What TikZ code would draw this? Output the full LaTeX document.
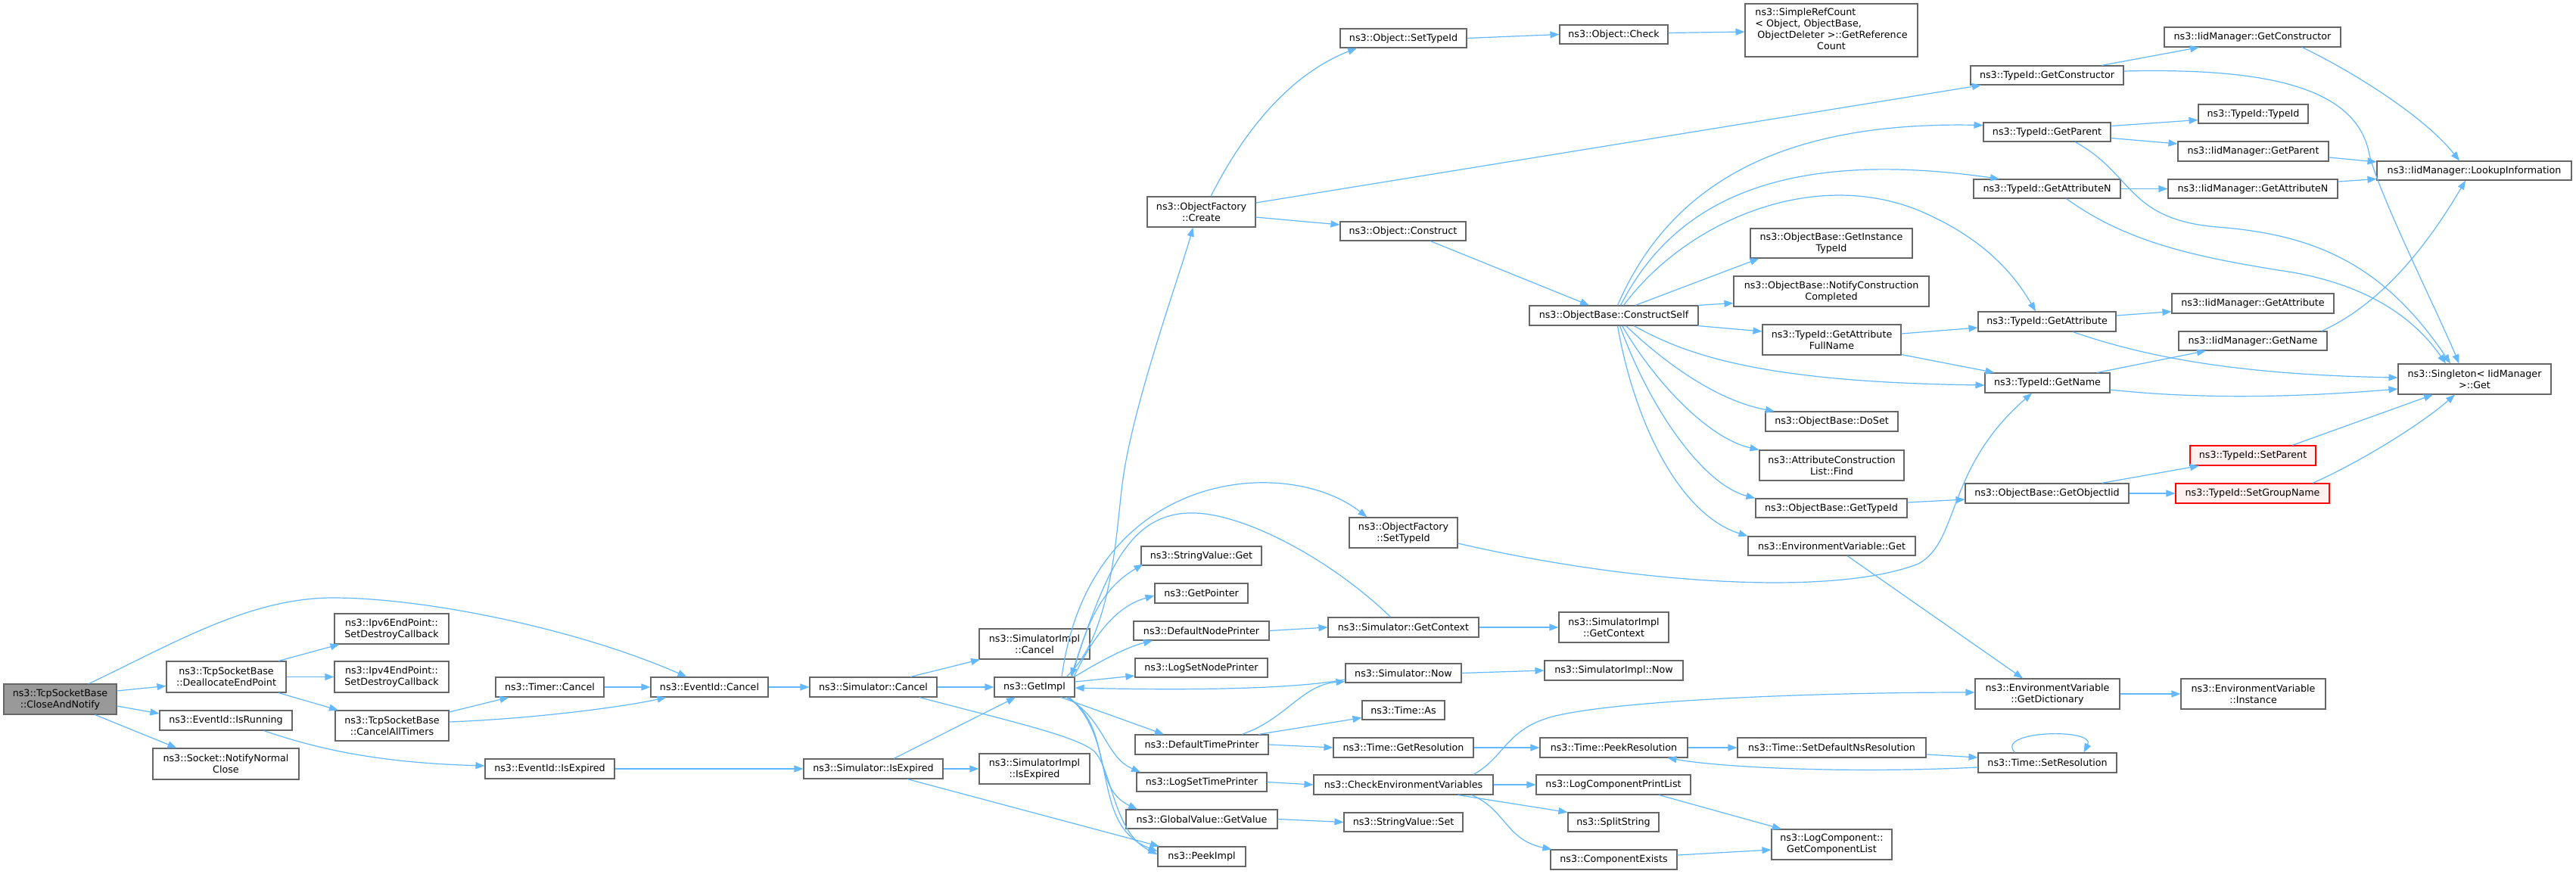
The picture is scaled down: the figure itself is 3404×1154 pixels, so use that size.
\documentclass[tikz,border=0pt]{standalone}
\usepackage{fontspec}
\setmainfont{DejaVu Sans}
\usetikzlibrary{arrows.meta}
\definecolor{edgecol}{HTML}{63B8FF}
\definecolor{bordcol}{HTML}{666666}
\definecolor{rootfill}{HTML}{999999}
\definecolor{redfill}{HTML}{FFF0F0}
\definecolor{redline}{HTML}{FF0000}
\newcommand{\nd}[7]{\node[#1, minimum width=#5pt, minimum height=#6pt] (#2) at (#3,#4) {#7};}
\begin{document}
\begin{tikzpicture}[x=1pt,y=-1pt,
  box/.style={draw=bordcol, line width=1.1pt, fill=white, inner sep=0pt, align=center, font=\fontsize{12.7}{15}\selectfont},
  rootbox/.style={box, fill=rootfill},
  redbox/.style={box, draw=redline, fill=redfill},
  conn/.style={draw=edgecol, line width=1.2pt, -{Triangle[length=12pt,width=9pt]}}]
\useasboundingbox (0,0) rectangle (3404,1154);
\fill[white] (0,0) rectangle (3404,1154);
% nodes
\nd{rootbox}{cn}{79.5}{924}{149}{40}{ns3::TcpSocketBase\\::CloseAndNotify}
\nd{box}{dep}{299}{894.5}{158}{41}{ns3::TcpSocketBase\\::DeallocateEndPoint}
\nd{box}{isr}{298.5}{952}{175}{26}{ns3::EventId::IsRunning}
\nd{box}{nnc}{298.5}{1009.5}{193}{41}{ns3::Socket::NotifyNormal\\Close}
\nd{box}{ip6}{517.5}{831}{151}{40}{ns3::Ipv6EndPoint::\\SetDestroyCallback}
\nd{box}{ip4}{517.5}{894.5}{151}{41}{ns3::Ipv4EndPoint::\\SetDestroyCallback}
\nd{box}{cat}{518}{959}{150}{40}{ns3::TcpSocketBase\\::CancelAllTimers}
\nd{box}{tc}{726.5}{908}{143}{26}{ns3::Timer::Cancel}
\nd{box}{ec}{937.5}{908}{155}{26}{ns3::EventId::Cancel}
\nd{box}{iex}{726.5}{1016}{171}{26}{ns3::EventId::IsExpired}
\nd{box}{sc}{1154}{908}{168}{26}{ns3::Simulator::Cancel}
\nd{box}{sie}{1154}{1016}{184}{26}{ns3::Simulator::IsExpired}
\nd{box}{sic}{1367}{851}{146}{40}{ns3::SimulatorImpl\\::Cancel}
\nd{box}{gi}{1367}{908}{106}{26}{ns3::GetImpl}
\nd{box}{siie}{1367}{1016}{146}{40}{ns3::SimulatorImpl\\::IsExpired}
\nd{box}{dnp}{1587.5}{833.5}{179}{25}{ns3::DefaultNodePrinter}
\nd{box}{lsnp}{1587.5}{882.5}{175}{25}{ns3::LogSetNodePrinter}
\nd{box}{dtp}{1588}{984}{176}{26}{ns3::DefaultTimePrinter}
\nd{box}{lstp}{1588}{1033.5}{172}{25}{ns3::LogSetTimePrinter}
\nd{box}{gv}{1588}{1082.5}{200}{25}{ns3::GlobalValue::GetValue}
\nd{box}{pi}{1588}{1132}{116}{26}{ns3::PeekImpl}
\nd{box}{svg}{1587.5}{734.5}{159}{25}{ns3::StringValue::Get}
\nd{box}{gp}{1587.5}{784}{123}{26}{ns3::GetPointer}
\nd{box}{ofst}{1854.5}{704}{143}{40}{ns3::ObjectFactory\\::SetTypeId}
\nd{box}{sgc}{1854.5}{829}{199}{26}{ns3::Simulator::GetContext}
\nd{box}{sigc}{2132.5}{829}{145}{40}{ns3::SimulatorImpl\\::GetContext}
\nd{box}{sn}{1854.5}{889.5}{153}{25}{ns3::Simulator::Now}
\nd{box}{sin}{2132.5}{886}{183}{26}{ns3::SimulatorImpl::Now}
\nd{box}{tas}{1854.5}{938.5}{109}{25}{ns3::Time::As}
\nd{box}{tgr}{1854.5}{988}{185}{26}{ns3::Time::GetResolution}
\nd{box}{tpr}{2132.5}{988}{195}{26}{ns3::Time::PeekResolution}
\nd{box}{cev}{1854.5}{1037}{237}{26}{ns3::CheckEnvironmentVariables}
\nd{box}{lcpl}{2132}{1037}{204}{26}{ns3::LogComponentPrintList}
\nd{box}{svs}{1854.5}{1086.5}{157}{25}{ns3::StringValue::Set}
\nd{box}{ss}{2132}{1086.5}{120}{25}{ns3::SplitString}
\nd{box}{ce}{2132.5}{1136}{167}{26}{ns3::ComponentExists}
\nd{box}{ocr}{1587.5}{280}{143}{40}{ns3::ObjectFactory\\::Create}
\nd{box}{ost}{1854.5}{50.5}{167}{25}{ns3::Object::SetTypeId}
\nd{box}{ocn}{1854}{305.5}{166}{25}{ns3::Object::Construct}
\nd{box}{och}{2132.5}{45.5}{143}{25}{ns3::Object::Check}
\nd{box}{src}{2420}{40}{228}{70}{\begin{tabular}{@{}l@{}}ns3::SimpleRefCount\\< Object, ObjectBase,\\\hspace{3pt}ObjectDeleter >::GetReference\\\multicolumn{1}{@{}c@{}}{Count}\end{tabular}}
\nd{box}{cs}{2132.5}{417}{223}{26}{ns3::ObjectBase::ConstructSelf}
\nd{box}{git}{2420}{321.5}{214}{39}{ns3::ObjectBase::GetInstance\\TypeId}
\nd{box}{ncc}{2420}{385}{258}{40}{ns3::ObjectBase::NotifyConstruction\\Completed}
\nd{box}{gafn}{2420.5}{449}{183}{40}{ns3::TypeId::GetAttribute\\FullName}
\nd{box}{dos}{2420.5}{557}{175}{26}{ns3::ObjectBase::DoSet}
\nd{box}{acl}{2420.5}{615}{191}{40}{ns3::AttributeConstruction\\List::Find}
\nd{box}{obgt}{2420}{671.5}{200}{25}{ns3::ObjectBase::GetTypeId}
\nd{box}{evg}{2420.5}{721.5}{221}{25}{ns3::EnvironmentVariable::Get}
\nd{box}{tgc}{2705}{99.5}{202}{25}{ns3::TypeId::GetConstructor}
\nd{box}{tgp}{2705}{174.5}{168}{25}{ns3::TypeId::GetParent}
\nd{box}{tgan}{2705}{249.5}{194}{25}{ns3::TypeId::GetAttributeN}
\nd{box}{tga}{2705}{425}{182}{26}{ns3::TypeId::GetAttribute}
\nd{box}{tgn}{2705.5}{506}{165}{26}{ns3::TypeId::GetName}
\nd{box}{gdict}{2705.5}{917}{191}{40}{ns3::EnvironmentVariable\\::GetDictionary}
\nd{box}{sdns}{2420.5}{988}{249}{26}{ns3::Time::SetDefaultNsResolution}
\nd{box}{gcl}{2420.5}{1116}{159}{40}{ns3::LogComponent::\\GetComponentList}
\nd{box}{goi}{2705}{652}{216}{26}{ns3::ObjectBase::GetObjectIid}
\nd{box}{sres}{2705.5}{1008}{183}{26}{ns3::Time::SetResolution}
\nd{box}{igc}{2976.5}{49}{233}{26}{ns3::IidManager::GetConstructor}
\nd{box}{tti}{2977.5}{150.5}{145}{25}{ns3::TypeId::TypeId}
\nd{box}{igp}{2977.5}{200}{199}{26}{ns3::IidManager::GetParent}
\nd{box}{igan}{2977}{249.5}{224}{25}{ns3::IidManager::GetAttributeN}
\nd{box}{iga}{2977}{401}{214}{26}{ns3::IidManager::GetAttribute}
\nd{box}{ign}{2977}{450.5}{196}{25}{ns3::IidManager::GetName}
\nd{redbox}{tsp}{2977}{602}{166}{26}{ns3::TypeId::SetParent}
\nd{redbox}{tsg}{2976.5}{652}{203}{26}{ns3::TypeId::SetGroupName}
\nd{box}{evi}{2977.5}{917}{191}{40}{ns3::EnvironmentVariable\\::Instance}
\nd{box}{lki}{3269.5}{225.5}{257}{25}{ns3::IidManager::LookupInformation}
\nd{box}{sgl}{3270}{501}{202}{40}{ns3::Singleton< IidManager\\>::Get}
% edges
\draw[conn] ([xshift=38pt]cn.north) .. controls (230,850) and (330,790) .. (440,790) .. controls (560,790) and (760,830) .. ([xshift=-30pt]ec.north);
\draw[conn] ([yshift=11pt]cn.east) -- ([yshift=-12pt]dep.west);
\draw[conn] ([yshift=-9pt]cn.east) -- ([yshift=9pt]isr.west);
\draw[conn] ([xshift=46pt]cn.south) -- ([xshift=-65pt]nnc.north);
\draw[conn] ([xshift=69pt]dep.north) -- ([xshift=-69pt]ip6.south);
\draw[conn] (dep.east) -- (ip4.west);
\draw[conn] ([xshift=69pt]dep.south) -- ([xshift=-71pt]cat.north);
\draw[conn] ([yshift=18pt]cat.east) -- ([xshift=-54pt]tc.south);
\draw[conn] ([yshift=5pt]cat.east) .. controls (700,950) and (820,935) .. ([xshift=-57pt]ec.south);
\draw[conn] ([xshift=50pt]isr.south) .. controls (420,990) and (500,1008) .. ([yshift=4pt]iex.west);
\draw[conn] (tc.east) -- (ec.west);
\draw[conn] (ec.east) -- (sc.west);
\draw[conn] (iex.east) -- (sie.west);
\draw[conn] ([xshift=49pt]sc.north) -- ([xshift=-72pt]sic.south);
\draw[conn] (sc.east) -- (gi.west);
\draw[conn] ([xshift=61pt]sc.south) .. controls (1330,952) and (1420,972) .. (1445,992) .. controls (1470,1015) and (1470,1100) .. ([yshift=3pt]pi.west);
\draw[conn] ([xshift=27pt]sie.north) -- ([xshift=-25pt]gi.south);
\draw[conn] (sie.east) -- (siie.west);
\draw[conn] ([xshift=45pt]sie.south) -- ([xshift=-56pt]pi.north);
\draw[conn] ([xshift=42pt]gi.north) .. controls (1470,840) and (1475,700) .. (1483,640) .. controls (1495,540) and (1560,360) .. ([xshift=-11pt]ocr.south);
\draw[conn] ([xshift=36pt]gi.north) .. controls (1440,620) and (1700,600) .. ([xshift=-48pt]ofst.north);
\draw[conn] ([xshift=-17pt]sgc.north) .. controls (1760,740) and (1640,675) .. (1570,678) .. controls (1490,681) and (1460,760) .. ([xshift=48pt]gi.north);
\draw[conn] ([xshift=50pt]gi.north) .. controls (1440,800) and (1470,770) .. ([xshift=3pt,yshift=2pt]svg.south west);
\draw[conn] ([xshift=52pt]gi.north) .. controls (1450,830) and (1480,800) .. ([yshift=-3pt]gp.west);
\draw[conn] ([xshift=-1pt]gi.north east) .. controls (1460,870) and (1490,855) .. ([xshift=-64.5pt]dnp.south);
\draw[conn] ([yshift=7pt]gi.east) -- ([yshift=-10.5pt]lsnp.west);
\draw[conn] ([xshift=35pt]gi.south) -- ([xshift=-50pt]dtp.north);
\draw[conn] ([xshift=42pt]gi.south) .. controls (1460,950) and (1460,1000) .. ([xshift=-81pt]lstp.north);
\draw[conn] ([xshift=44pt]gi.south) .. controls (1470,960) and (1440,1040) .. ([xshift=-85pt]gv.north);
\draw[conn] ([xshift=46pt]gi.south) .. controls (1480,980) and (1440,1090) .. ([yshift=7pt]pi.west);
\draw[conn] ([yshift=-8.5pt]sn.west) .. controls (1700,912) and (1550,912) .. ([yshift=-1pt]gi.east);
\draw[conn] (dnp.east) -- (sgc.west);
\draw[conn] ([xshift=53pt]dtp.north) .. controls (1700,950) and (1720,905) .. ([yshift=2pt]sn.south west);
\draw[conn] ([xshift=75pt]dtp.north) -- ([yshift=-10pt]tas.west);
\draw[conn] (dtp.east) -- (tgr.west);
\draw[conn] (lstp.east) -- (cev.west);
\draw[conn] (gv.east) -- (svs.west);
\draw[conn] (sgc.east) -- (sigc.west);
\draw[conn] (sn.east) -- (sin.west);
\draw[conn] (tgr.east) -- (tpr.west);
\draw[conn] (tpr.east) -- (sdns.west);
\draw[conn] ([yshift=-9pt]sdns.east) -- ([yshift=7pt]sres.west);
\draw[conn] ([yshift=-6pt]sres.west) .. controls (2450,1022) and (2280,1015) .. ([xshift=71pt]tpr.south);
\draw[conn] ([xshift=-43pt]sres.north) .. controls (2635,965) and (2770,962) .. ([xshift=48pt]sres.north);
\draw[conn] ([xshift=92.5pt]cev.north) .. controls (1990,1000) and (1990,960) .. (2060,945) .. controls (2150,925) and (2400,915) .. ([yshift=2pt]gdict.west);
\draw[conn] (cev.east) -- (lcpl.west);
\draw[conn] ([xshift=72pt]cev.south) -- (ss.north west);
\draw[conn] ([xshift=90pt]cev.south) .. controls (1990,1070) and (1990,1110) .. ([xshift=2pt]ce.north west);
\draw[conn] ([xshift=60pt]lcpl.south) -- ([xshift=-66.5pt]gcl.north);
\draw[conn] ([yshift=6pt]ce.east) -- ([yshift=-7pt]gcl.west);
\draw[conn] (gdict.east) -- (evi.west);
\draw[conn] ([xshift=20.5pt]evg.south) -- ([xshift=-32.5pt]gdict.north);
\draw[conn] ([yshift=-14pt]ofst.east) .. controls (2150,770) and (2420,790) .. (2535,745) .. controls (2590,715) and (2570,620) .. ([xshift=-20.5pt]tgn.south);
\draw[conn] ([xshift=12.5pt]ocr.north) .. controls (1640,180) and (1700,100) .. ([xshift=-61.5pt]ost.south);
\draw[conn] ([yshift=12pt]ocr.east) -- ([xshift=-87pt]tgc.south);
\draw[conn] ([yshift=-7pt]ocr.east) -- ([yshift=8.5pt]ocn.west);
\draw[conn] (ost.east) -- (och.west);
\draw[conn] ([yshift=2pt]och.east) -- ([yshift=-2pt]src.west);
\draw[conn] ([xshift=36pt]ocn.south) -- ([xshift=-32.5pt]cs.north);
\draw[conn] ([xshift=5pt]cs.north) .. controls (2200,260) and (2330,160) .. ([yshift=9pt]tgp.west);
\draw[conn] ([xshift=9pt]cs.north) .. controls (2200,290) and (2320,190) .. ([xshift=-63pt]tgan.north);
\draw[conn] ([xshift=13pt]cs.north) .. controls (2230,290) and (2400,220) .. (2540,280) .. controls (2620,315) and (2660,360) .. ([xshift=-15pt]tga.north);
\draw[conn] ([xshift=28.5pt]cs.north) -- ([xshift=-95.5pt]git.south);
\draw[conn] ([xshift=-1pt]cs.north east) -- ([yshift=5pt]ncc.south west);
\draw[conn] ([xshift=-1pt]cs.south east) -- ([yshift=11pt]gafn.west);
\draw[conn] ([xshift=26.5pt]cs.south) .. controls (2230,470) and (2330,505) .. ([yshift=-3pt]tgn.west);
\draw[conn] ([xshift=16pt]cs.south) .. controls (2200,480) and (2270,530) .. ([xshift=-75.5pt]dos.north);
\draw[conn] ([xshift=11pt]cs.south) .. controls (2190,510) and (2260,580) .. (acl.north west);
\draw[conn] ([xshift=8pt]cs.south) .. controls (2180,540) and (2250,640) .. (obgt.north west);
\draw[conn] ([xshift=5pt]cs.south) .. controls (2160,560) and (2220,680) .. (evg.north west);
\draw[conn] ([yshift=8pt]gafn.east) -- ([yshift=-8pt]tga.west);
\draw[conn] ([yshift=1pt]gafn.south east) -- ([xshift=-70pt]tgn.north);
\draw[conn] ([yshift=7.5pt]obgt.east) -- ([yshift=-8pt]goi.west);
\draw[conn] ([xshift=72pt]goi.north) -- ([xshift=-71pt]tsp.south);
\draw[conn] (goi.east) -- (tsg.west);
\draw[conn] ([xshift=52pt]tsp.north) -- ([xshift=-55pt]sgl.south);
\draw[conn] ([xshift=79.5pt]tsg.north) .. controls (3120,610) and (3200,560) .. ([xshift=-26pt]sgl.south);
\draw[conn] ([xshift=72pt]tgc.north) -- ([xshift=-70.5pt]igc.south);
\draw[conn] ([yshift=5.5pt]tgc.east) .. controls (2980,90) and (3110,110) .. (3130,200) .. controls (3140,250) and (3220,410) .. ([xshift=-20.5pt]sgl.north);
\draw[conn] ([xshift=65.5pt]igc.south) .. controls (3100,90) and (3200,150) .. ([xshift=-19.5pt]lki.north);
\draw[conn] ([yshift=8pt]tgp.east) -- ([yshift=-8pt]tti.west);
\draw[conn] ([yshift=-8pt]tgp.east) -- ([yshift=10pt]igp.west);
\draw[conn] ([xshift=37pt]tgp.south) .. controls (2820,230) and (2810,290) .. (2930,300) .. controls (3060,310) and (3150,350) .. ([xshift=-32pt]sgl.north);
\draw[conn] ([yshift=-8pt]igp.east) -- ([yshift=11.5pt]lki.west);
\draw[conn] (tgan.east) -- (igan.west);
\draw[conn] ([xshift=25.5pt]tgan.south) .. controls (2810,320) and (2900,340) .. (3030,360) .. controls (3130,378) and (3190,420) .. ([xshift=-38pt]sgl.north);
\draw[conn] ([yshift=9.5pt]igan.east) -- ([yshift=-11pt]lki.west);
\draw[conn] ([yshift=8pt]tga.east) -- ([yshift=-10.7pt]iga.west);
\draw[conn] ([xshift=34pt]tga.south) .. controls (2830,470) and (2950,495) .. ([yshift=2pt]sgl.west);
\draw[conn] ([xshift=65.5pt]tgn.north) -- ([xshift=-62pt]ign.south);
\draw[conn] ([yshift=-9pt]tgn.east) .. controls (2880,525) and (3000,528) .. ([yshift=-13pt]sgl.west);
\draw[conn] ([xshift=91pt]ign.north) .. controls (3150,400) and (3210,320) .. ([xshift=-11.5pt]lki.south);
\end{tikzpicture}
\end{document}
